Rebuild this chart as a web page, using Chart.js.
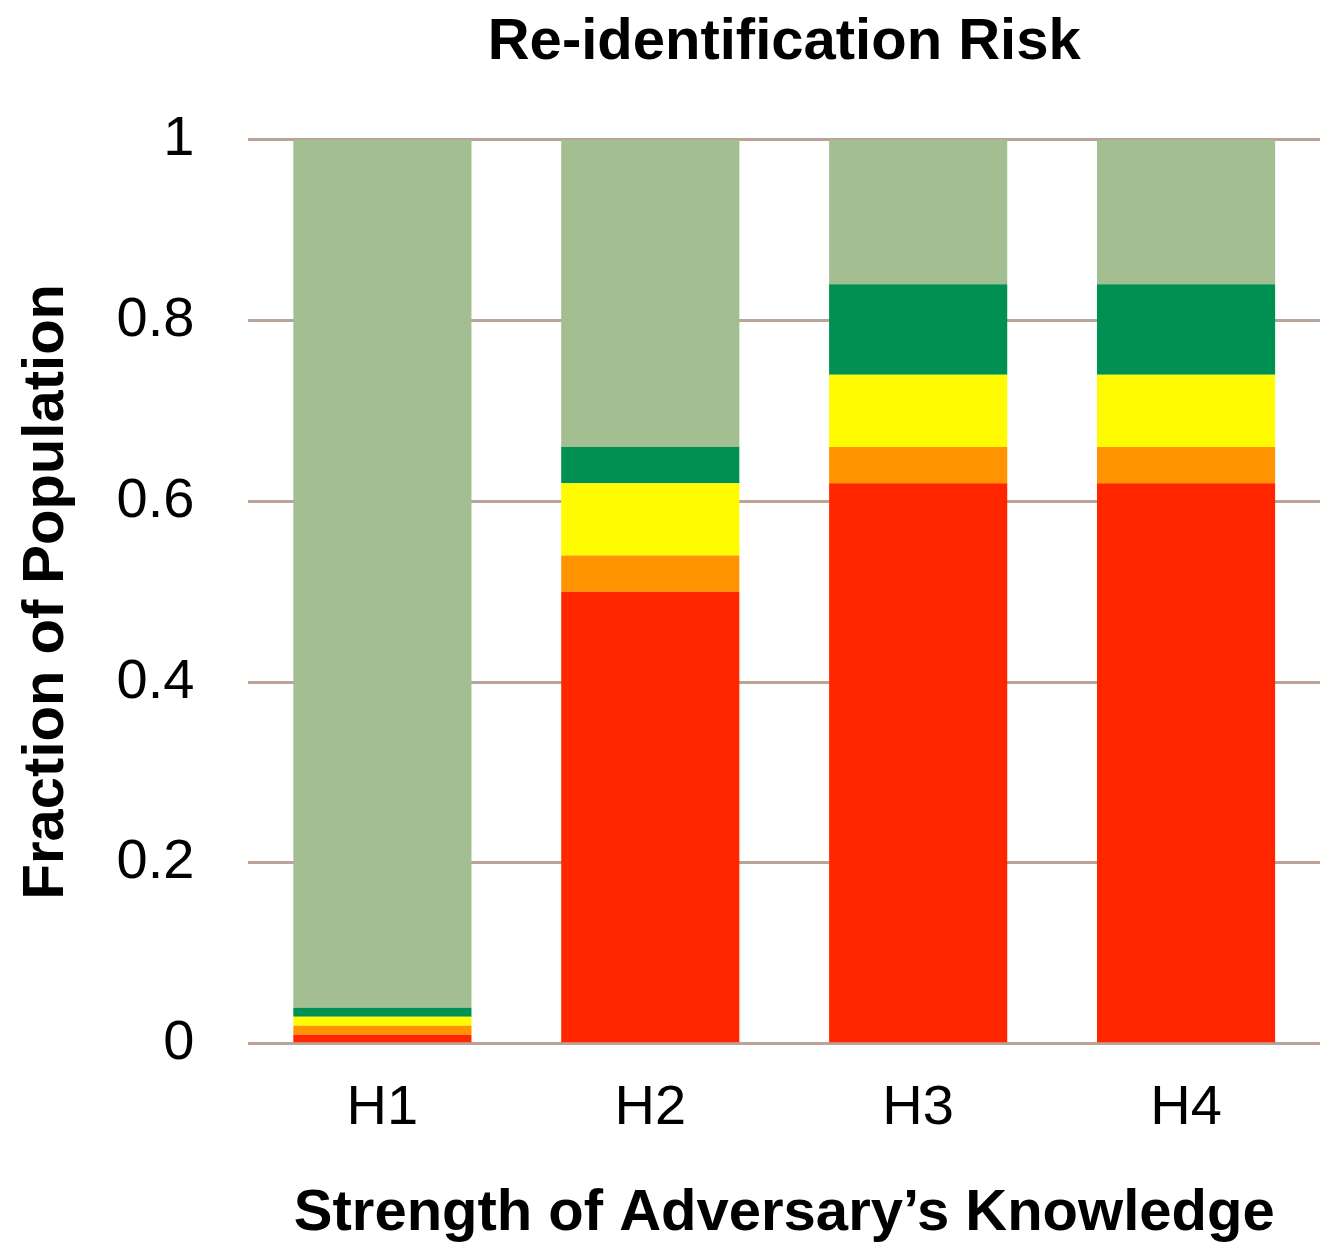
<!DOCTYPE html>
<html>
<head>
<meta charset="utf-8">
<script src="https://cdn.jsdelivr.net/npm/chart.js@4/dist/chart.umd.min.js"></script>
<style>
  html, body { margin: 0; padding: 0; background: #fff; }
  #wrap { width: 1334px; height: 1243px; position: relative; }
</style>
</head>
<body>
<div id="wrap"><canvas id="grafico"></canvas></div>
<script>
// dados
var categorias = ['H1', 'H2', 'H3', 'H4'];
var vermelho   = [0.01, 0.50, 0.62, 0.62];
var laranja    = [0.01, 0.04, 0.04, 0.04];
var amarelo    = [0.01, 0.08, 0.08, 0.08];
var verdeEsc   = [0.01, 0.04, 0.10, 0.10];
var verdeClaro = [0.96, 0.34, 0.16, 0.16];
var ticksY     = [0, 0.2, 0.4, 0.6, 0.8, 1];

var fonte = "'Liberation Sans', Arial, Helvetica, sans-serif";

var chart_data = {
  labels: categorias,
  datasets: [
    { label: 'vermelho',    backgroundColor: '#FF2600', data: vermelho },
    { label: 'laranja',     backgroundColor: '#FF9300', data: laranja },
    { label: 'amarelo',     backgroundColor: '#FFFB00', data: amarelo },
    { label: 'verde escuro', backgroundColor: '#009051', data: verdeEsc },
    { label: 'verde claro', backgroundColor: '#A3BE91', data: verdeClaro }
  ]
};

var grafico = new Chart(document.getElementById('grafico'), {
  type: 'bar',
  data: chart_data,
  options: {
    responsive: true,
    maintainAspectRatio: false,
    animation: false,
    categoryPercentage: 1,
    barPercentage: 0.665,
    layout: { padding: { top: 0, right: 14, bottom: 0, left: 0 } },
    plugins: {
      legend: { display: false },
      tooltip: { enabled: false },
      title: {
        display: true,
        fullSize: false,
        text: 'Re-identification Risk',
        color: '#000',
        font: { family: fonte, size: 58, weight: 'bold' },
        padding: { top: 8, bottom: 62 }
      }
    },
    scales: {
      x: {
        stacked: true,
        grid: { display: false, drawTicks: false },
        border: { display: false },
        ticks: {
          color: '#000',
          padding: 31,
          font: { family: fonte, size: 56 }
        },
        title: {
          display: true,
          text: 'Strength of Adversary’s Knowledge',
          color: '#000',
          font: { family: fonte, size: 58, weight: 'bold', lineHeight: 1 },
          padding: { top: 12, bottom: 0 }
        }
      },
      y: {
        stacked: true,
        min: 0,
        max: 1,
        afterBuildTicks: function(axis) {
          axis.ticks = ticksY.map(function(v) { return { value: v }; });
        },
        grid: { color: '#B9A497', lineWidth: 3, drawTicks: false },
        border: { display: false },
        ticks: {
          color: '#000',
          padding: 54,
          font: { family: fonte, size: 56 },
          callback: function(v) { return String(v); }
        },
        title: {
          display: true,
          text: 'Fraction of Population',
          color: '#000',
          font: { family: fonte, size: 58, weight: 'bold' },
          padding: { top: 12, bottom: -19 }
        }
      }
    }
  }
});
</script>
</body>
</html>
